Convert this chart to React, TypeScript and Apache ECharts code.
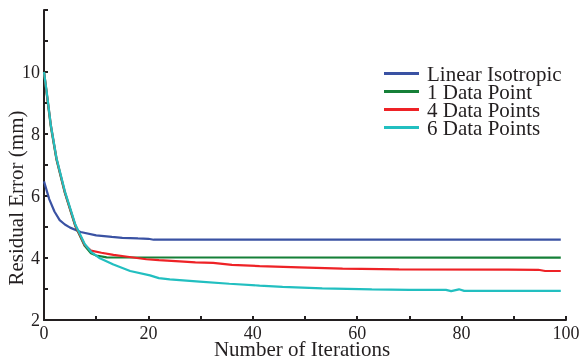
import React, { useEffect, useRef } from "react";
import * as echarts from "echarts";

const seriesNames = ["Linear Isotropic", "1 Data Point", "4 Data Points", "6 Data Points"];
const seriesColors = ["#3a52a3", "#168038", "#ee2226", "#22bfc0"];

const linearX = [0, 1, 2, 3, 4, 5, 7, 10, 13, 15, 18, 20, 21, 99];
const linearY = [6.47, 5.9, 5.5, 5.22, 5.08, 4.98, 4.84, 4.73, 4.68, 4.65, 4.63, 4.62, 4.59, 4.59];

const oneX = [0, 0.5, 1.3, 2.4, 4, 6, 7.8, 9, 10, 12, 99];
const oneY = [10, 9.32, 8.25, 7.17, 6.1, 5.03, 4.39, 4.15, 4.08, 4.02, 4.01];

const fourX = [0, 0.5, 1.3, 2.4, 4, 6, 7.8, 9, 11, 13.3, 16, 19.6, 22, 26, 29, 32.4, 36, 41.3, 48.9, 57.2, 68, 94.7, 96, 99];
const fourY = [10, 9.35, 8.3, 7.2, 6.12, 5.05, 4.42, 4.24, 4.17, 4.1, 4.04, 3.96, 3.93, 3.89, 3.86, 3.84, 3.78, 3.74, 3.7, 3.66, 3.63, 3.62, 3.58, 3.58];

const sixX = [0, 0.5, 1.3, 2.4, 4, 6, 7.8, 9, 10.7, 13.3, 16.5, 20.3, 22, 24.1, 29.8, 35.5, 41.3, 45.7, 53.3, 62.8, 70, 77, 78, 79.5, 80.5, 99];
const sixY = [10, 9.38, 8.3, 7.22, 6.15, 5.08, 4.45, 4.2, 3.99, 3.79, 3.58, 3.44, 3.35, 3.31, 3.24, 3.17, 3.11, 3.07, 3.02, 2.99, 2.97, 2.97, 2.93, 2.99, 2.94, 2.94];

const xTickLabels = [0, 20, 40, 60, 80, 100];
const yTickLabels = [2, 4, 6, 8, 10];

const FONT = "Liberation Serif";
const INK = "#231f20";

export default function App() {
  const ref = useRef<HTMLDivElement>(null);
  useEffect(() => {
    if (!ref.current) return;
    const chart = echarts.init(ref.current, null, { renderer: "svg" });
    const xs = [linearX, oneX, fourX, sixX];
    const ys = [linearY, oneY, fourY, sixY];
    const series = seriesNames.map((name, i) => ({
      name,
      type: "line",
      data: xs[i].map((x, j) => [x, ys[i][j]]),
      showSymbol: false,
      symbol: "none",
      lineStyle: { color: seriesColors[i], width: 2.2 },
      itemStyle: { color: seriesColors[i] },
    }));
    chart.setOption({
      animation: false,
      grid: { left: 44, right: 17, top: 10, bottom: 40 },
      legend: {
        orient: "vertical",
        left: 384,
        top: 63,
        padding: 0,
        itemGap: -3,
        itemWidth: 35,
        itemHeight: 3,
        icon: "rect",
        data: seriesNames,
        textStyle: { fontFamily: FONT, fontSize: 21, color: INK, lineHeight: 17.7, height: 17.7, padding: [0, 0, 0, 3] },
      },
      xAxis: {
        type: "value",
        min: 0,
        max: 100,
        interval: 10,
        axisLine: { lineStyle: { color: INK, width: 2 } },
        axisTick: { inside: true, length: 4, lineStyle: { color: INK, width: 2 } },
        splitLine: { show: false },
        axisLabel: {
          margin: 6,
          fontFamily: FONT,
          fontSize: 18,
          lineHeight: 14,
          color: INK,
          formatter: (v: number) => (xTickLabels.includes(v) ? String(v) : ""),
        },
      },
      yAxis: {
        type: "value",
        min: 2,
        max: 12,
        interval: 1,
        axisLine: { show: true, lineStyle: { color: INK, width: 2 } },
        axisTick: { show: true, inside: true, length: 4, lineStyle: { color: INK, width: 2 } },
        splitLine: { show: false },
        axisLabel: {
          margin: 4,
          fontFamily: FONT,
          fontSize: 18,
          color: INK,
          formatter: (v: number) => (yTickLabels.includes(v) ? String(v) : ""),
        },
      },
      graphic: [
        {
          type: "text",
          x: 302,
          y: 349,
          style: {
            text: "Number of Iterations",
            fontFamily: FONT,
            fontSize: 21,
            lineHeight: 16,
            fill: INK,
            textAlign: "center",
            textVerticalAlign: "middle",
          },
        },
        {
          type: "text",
          x: 16,
          y: 198,
          rotation: Math.PI / 2,
          style: {
            text: "Residual Error (mm)",
            fontFamily: FONT,
            fontSize: 21,
            fill: INK,
            textAlign: "center",
            textVerticalAlign: "middle",
          },
        },
      ],
      series,
    });
    return () => chart.dispose();
  }, []);
  return <div ref={ref} style={{ position: "fixed", left: 0, top: 0, width: 583, height: 360 }} />;
}
